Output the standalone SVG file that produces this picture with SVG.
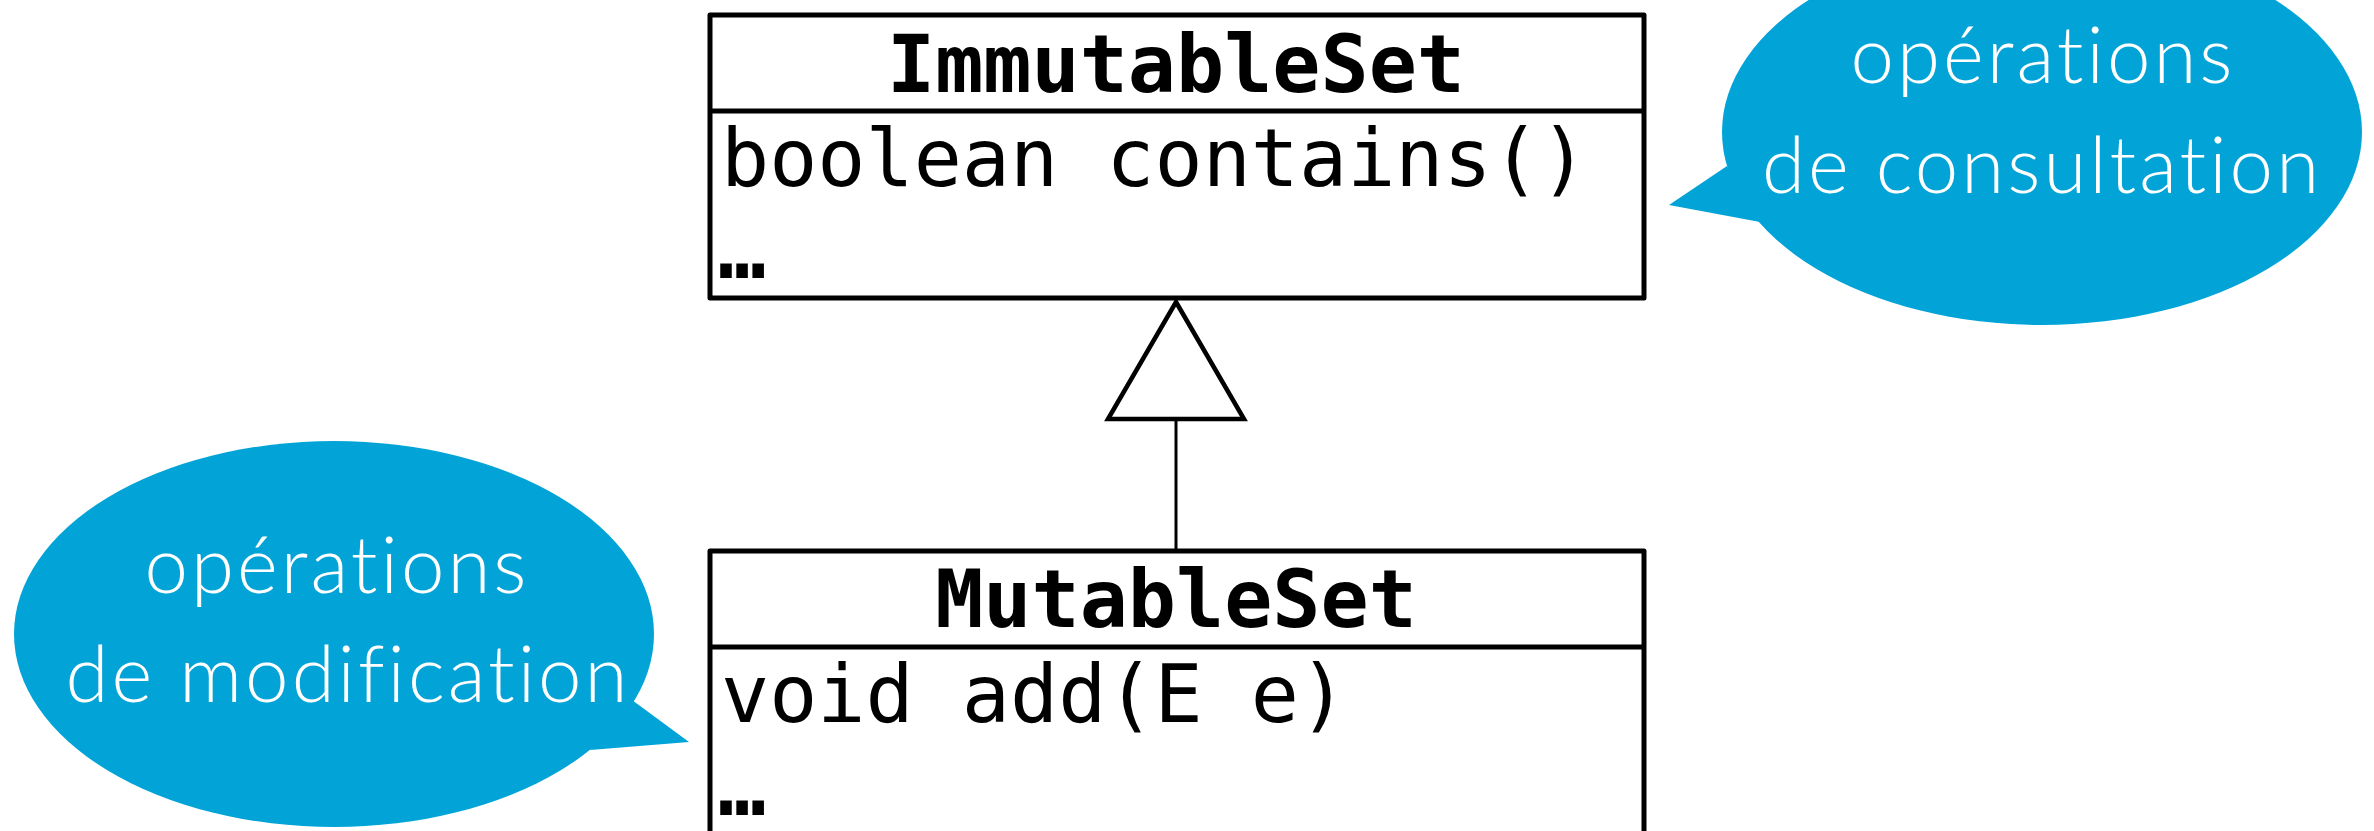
<svg xmlns="http://www.w3.org/2000/svg" width="2374" height="831" viewBox="0 0 2374 831">
  <style>
    .box { fill: #ffffff; stroke: #000000; stroke-width: 5; stroke-linejoin: round; }
    .sep { stroke: #000000; stroke-width: 5; }
    .title { font-family: "DejaVu Sans Mono", monospace; font-weight: bold; font-size: 80px; fill: #000000; text-anchor: middle; }
    .member { font-family: "DejaVu Sans Mono", monospace; font-size: 80px; fill: #000000; }
    .more { font-family: "DejaVu Sans Mono", monospace; font-weight: bold; font-size: 80px; fill: #000000; }
    .bubble { fill: #02A4D8; }
    .note { font-family: "Lato", "Open Sans", sans-serif; font-weight: 300; font-size: 78px; letter-spacing: 3px; font-variant-ligatures: none; font-feature-settings: "liga" 0; fill: #ffffff; text-anchor: middle; }
    .edge { stroke: #000000; stroke-width: 3; fill: none; }
    .head { fill: #ffffff; stroke: #000000; stroke-width: 4.5; stroke-linejoin: miter; }
  </style>

  <!-- speech bubble: read-only operations -->
  <g id="note-consultation">
    <ellipse class="bubble" cx="2042" cy="132" rx="320" ry="193"/>
    <polygon class="bubble" points="1727,166 1669,205 1760,222"/>
    <text class="note" x="2043" y="83">opérations</text>
    <text class="note" x="2042" y="193">de consultation</text>
  </g>

  <!-- speech bubble: mutating operations -->
  <g id="note-modification">
    <ellipse class="bubble" cx="334" cy="634" rx="320" ry="193"/>
    <polygon class="bubble" points="632,700 689,742 590,750"/>
    <text class="note" x="337" y="593">opérations</text>
    <text class="note" x="348" y="702">de modification</text>
  </g>

  <!-- generalization: MutableSet extends ImmutableSet -->
  <g id="connectors">
    <line class="edge" x1="1176" y1="419" x2="1176" y2="551"/>
    <polygon class="head" points="1176,302 1244,419 1108,419"/>
  </g>

  <g id="immutable-set">
    <rect class="box" x="710" y="15" width="934" height="283"/>
    <line class="sep" x1="710" y1="111" x2="1644" y2="111"/>
    <text class="title" x="1176" y="92">ImmutableSet</text>
    <text class="member" x="721" y="186">boolean contains()</text>
    <text class="more" x="718" y="278">…</text>
  </g>

  <g id="mutable-set">
    <rect class="box" x="710" y="551" width="934" height="300"/>
    <line class="sep" x1="710" y1="647" x2="1644" y2="647"/>
    <text class="title" x="1176" y="627">MutableSet</text>
    <text class="member" x="721" y="722">void add(E e)</text>
    <text class="more" x="718" y="815">…</text>
  </g>
</svg>
